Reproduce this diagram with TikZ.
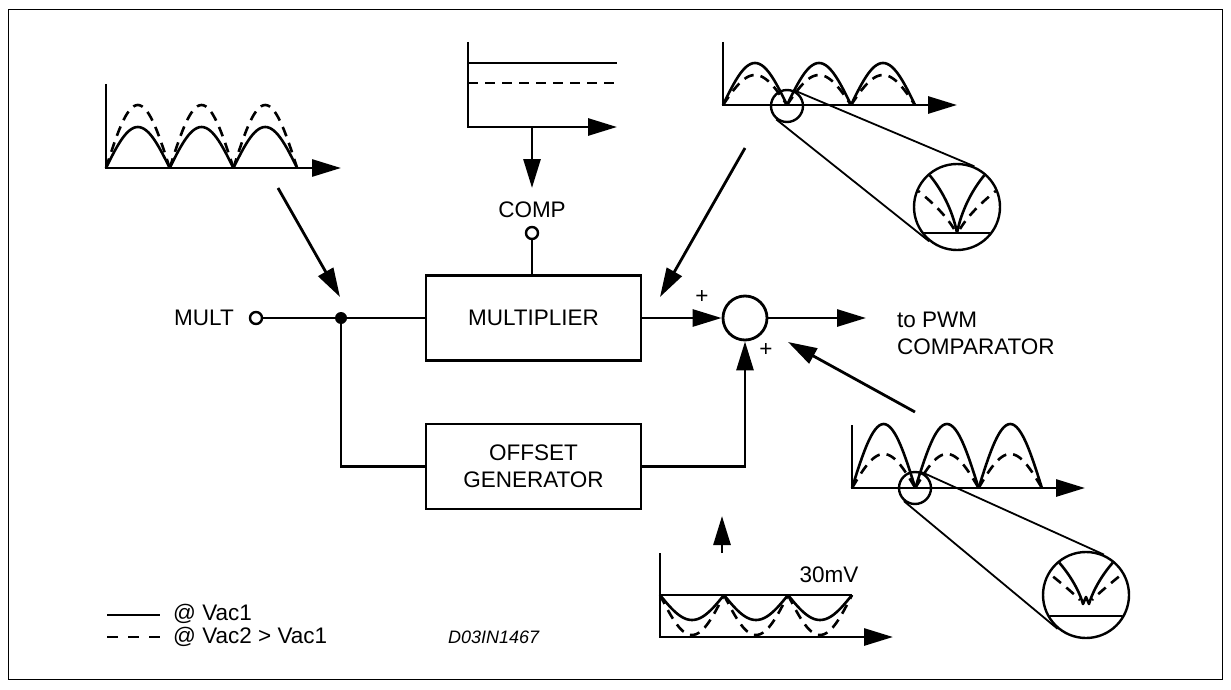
\documentclass[tikz,border=0pt]{standalone}
\usepackage{fontspec}
\setmainfont{Liberation Sans}
\usetikzlibrary{arrows.meta}
\newcommand\lblfont{\fontsize{22.5}{27}\selectfont}
\newcommand\wavearch[6]{%
  \foreach \k in {1,...,#5}{%
    \draw[#6] plot[domain=0:1, samples=31, smooth] ({#1+(\k-1+\x)*#3}, {#2-(#4)*sin(180*\x)});
  }}
\begin{document}
\begin{tikzpicture}[x=1pt,y=-1pt,
  lw/.style={line width=2.8pt},
  arr/.style={lw, line join=miter, -{Triangle[length=29pt,width=17pt]}},
  blk/.style={draw, lw, minimum width=215pt, minimum height=85pt, inner sep=0pt, align=center, font=\lblfont},
  wv/.style={line width=2.6pt, line join=round},
  dsh/.style={wv, dash pattern=on 10pt off 7pt},
  pinc/.style={circle, draw, line width=2.4pt, minimum size=12pt, inner sep=0pt, fill=white},
  lens/.style={circle, draw, line width=2.4pt, inner sep=0pt},
  ray/.style={line width=1.8pt},
  lbl/.style={font=\lblfont, inner sep=0pt}
]
\useasboundingbox (0,0) rectangle (1231,690);
% frame
\draw[line width=1.1pt] (8.5,9.5) rectangle (1222.5,679.5);

% blocks
\node[blk] (mul) at (533.5,318) {MULTIPLIER};
\node[blk] (off) at (533.5,466.5) {OFFSET\\GENERATOR};
\node[circle, draw, lw, minimum size=44pt, inner sep=0pt] (sum) at (745,318) {};
\node[pinc] (mp) at (256,318) {};
\node[lbl, anchor=east] (multl) at (234,318) {MULT};
\coordinate (j) at (341,318);
\draw[lw] (mp) -- (j) -- (mul);
\draw[lw] (j) |- (off);
\fill (j) circle[radius=6pt];
\draw[arr] (mul) -- (sum);
\draw[arr] (off) -| (sum);
\coordinate (outt) at (866,318);
\draw[arr] (sum) -- (outt);
\node[lbl, anchor=west, align=left] (pwm) at (897,333.5) {to PWM\\COMPARATOR};
\node[lbl] (p1) at (702,297) {+};
\node[lbl] (p2) at (766,350) {+};

% COMP
\node[pinc] (cp) at (532,233) {};
\draw[lw] (cp) -- (cp |- mul.north);
\node[lbl] (compl) at (532,210) {COMP};

% comp waveform
\draw[arr] (468,42) -- (468,127) -- (617,127);
\draw[wv] (468,63) -- (617,63);
\draw[dsh] (468,83) -- (617,83);
\coordinate (cws) at (532,127);
\coordinate (cwt) at (532,188);
\draw[arr] (cws) -- (cwt);

% top-left waveform
\draw[arr] (106,84) -- (106,168) -- (341,168);
\wavearch{106}{168}{63.7}{41}{3}{wv}
\wavearch{106}{168}{63.7}{63}{3}{dsh}
\coordinate (a1s) at (278,188);
\coordinate (a1t) at (340,297);
\draw[arr] (a1s) -- (a1t);

% top-right waveform
\draw[arr] (723,42) -- (723,105) -- (957,105);
\wavearch{723}{105}{64}{42}{3}{wv}
\wavearch{723}{105}{64}{30}{3}{dsh}
\node[lens, minimum size=32pt] (s1) at (787,106) {};
\node[lens, minimum size=86pt] (m1) at (957,207) {};
\draw[ray] (s1.67) -- (m1.67);
\draw[ray] (s1.231) -- (m1.231);
\begin{scope}
\clip (957,207) circle[radius=42pt];
\draw[wv] (900,233) -- (1010,233);
\draw[wv] (925,170) .. controls (942,188) and (953,212) .. (957,233);
\draw[wv] (989,170) .. controls (972,188) and (961,212) .. (957,233);
\draw[dsh] (912,186) .. controls (930,200) and (945,214) .. (954,229);
\draw[dsh] (1002,186) .. controls (984,200) and (969,214) .. (960,229);
\end{scope}
\coordinate (a2s) at (745,148);
\coordinate (a2t) at (660,297);
\draw[arr] (a2s) -- (a2t);

% bottom-right waveform
\draw[arr] (852,425) -- (852,488) -- (1085,488);
\wavearch{852}{488}{63.3}{64}{3}{wv}
\wavearch{852}{488}{63.3}{34}{3}{dsh}
\node[lens, minimum size=32pt] (s2) at (915,488) {};
\node[lens, minimum size=86pt] (m2) at (1086,595) {};
\draw[ray] (s2.66) -- (m2.66);
\draw[ray] (s2.230) -- (m2.230);
\begin{scope}
\clip (1086,595) circle[radius=42pt];
\draw[wv] (1030,616) -- (1140,616);
\draw[wv] (1050,553) .. controls (1068,570) and (1079,590) .. (1083,604) -- (1086,597) -- (1089,604) .. controls (1093,590) and (1104,570) .. (1122,553);
\draw[dsh] (1040,566) .. controls (1056,579) and (1070,590) .. (1080,600);
\draw[dsh] (1132,566) .. controls (1116,579) and (1102,590) .. (1092,600);
\end{scope}
\coordinate (a3s) at (915,412);
\coordinate (a3t) at (788,342);
\draw[arr] (a3s) -- (a3t);

% bottom waveform
\draw[arr] (660,553) -- (660,637) -- (893,637);
\draw[line width=1.4pt] (660,595) -- (852,595);
\wavearch{660}{595}{64}{-25}{3}{wv}
\wavearch{660}{595}{64}{-40}{3}{dsh}
\node[lbl] (mv) at (829,575) {30mV};
\coordinate (a4s) at (722,553);
\coordinate (a4t) at (722,516);
\draw[arr] (a4s) -- (a4t);

% legend
\draw[wv] (107,615) -- (160,615);
\draw[wv, dash pattern=on 11pt off 10pt] (107,637) -- (160,637);
\node[lbl, anchor=west] (lg1) at (173,614) {@ Vac1};
\node[lbl, anchor=west] (lg2) at (173,637) {@ Vac2 > Vac1};
\node[font=\fontsize{18}{22}\selectfont\itshape, anchor=west, inner sep=0pt] (code) at (448,637) {D03IN1467};
\end{tikzpicture}
\end{document}
